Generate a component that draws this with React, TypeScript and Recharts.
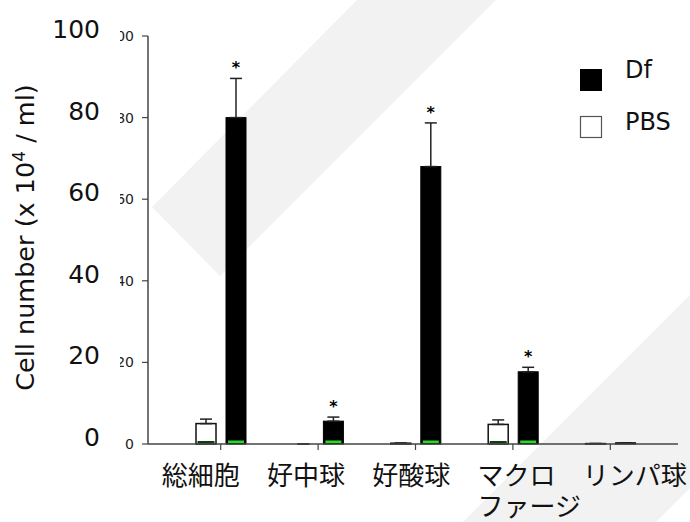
import React from 'react';
import { BarChart, Bar, XAxis, YAxis, ErrorBar } from 'recharts';

const categories = ['総細胞', '好中球', '好酸球', 'マクロ\nファージ', 'リンパ球'];
const dfValues = [80, 5.6, 68, 17.7, 0.3];
const dfErrors = [9.6, 1.0, 10.7, 1.1, 0];
const pbsValues = [5.0, 0, 0.2, 4.8, 0.1];
const pbsErrors = [1.1, 0, 0, 1.1, 0];
const significant = [true, true, true, true, false];
const yTicks = [0, 20, 40, 60, 80, 100];
const seriesNames = ['Df', 'PBS'];
const yAxisTitle = 'Cell number (x 10';
const yAxisSup = '4';
const yAxisTail = ' / ml)';

const data = categories.map((name, i) => ({
  name,
  pbs: pbsValues[i],
  pbsErr: [0, pbsErrors[i]],
  df: dfValues[i],
  dfErr: [0, dfErrors[i]],
  dfErrVal: dfErrors[i],
  sig: significant[i],
}));

const LATIN = '"DejaVu Sans", Verdana, sans-serif';
const CJK = '"Noto Sans CJK JP", "DejaVu Sans", sans-serif';

const DfShape = (props: any) => {
  const { x, y, width, height, payload } = props;
  const h = Math.max(height || 0, 0);
  const unit = payload.df > 0 ? h / payload.df : 0;
  const errTop = y - payload.dfErrVal * unit;
  return (
    <g>
      <rect x={x} y={y} width={width} height={h} fill="#000" stroke="#000" strokeWidth={1} />
      {h > 6 && <rect x={x + 2} y={y + h - 3.5} width={width - 4} height={2.5} fill="#22dd22" />}
      {payload.sig && (
        <text x={x + width / 2} y={errTop - 5} textAnchor="middle" fontSize={16} fontWeight="bold" fill="#000" fontFamily={LATIN}>*</text>
      )}
    </g>
  );
};

const PbsShape = (props: any) => {
  const { x, y, width, height } = props;
  const h = Math.max(height || 0, 0);
  return (
    <g>
      <rect x={x} y={y} width={width} height={h} fill="#fff" stroke="#111" strokeWidth={1.5} />
      {h > 6 && <rect x={x + 1.5} y={y + h - 3} width={width - 3} height={2.2} fill="#123d12" />}
    </g>
  );
};

const YTick = (props: any) => {
  const { y, payload } = props;
  const v = payload.value;
  return (
    <g>
      <text x={134} y={y + 5} textAnchor="end" fontSize={14} fill="#222" fontFamily={LATIN}>{v}</text>
      <rect x={100.5} y={y - 11} width={19.5} height={22} fill="#fff" />
      <text x={100} y={y + 2} textAnchor="end" fontSize={25} fill="#111" fontFamily={LATIN}>{v}</text>
    </g>
  );
};

const XTick = (props: any) => {
  const { x, payload } = props;
  const lines = String(payload.value).split('\n');
  const left = 162 + (x - 221) * 1.081;
  return (
    <text x={left} y={485} textAnchor="start" fontSize={26} fill="#111" fontFamily={CJK}>
      {lines.map((ln, i) => (
        <tspan key={i} x={left} dy={i === 0 ? 0 : 31}>{ln}</tspan>
      ))}
    </text>
  );
};

const YLabel = () => (
  <text transform="translate(34,237.5) rotate(-90)" textAnchor="middle" fontSize={25.5} fill="#111" fontFamily={LATIN}>
    {yAxisTitle}
    <tspan dy={-9} fontSize={17}>{yAxisSup}</tspan>
    <tspan dy={9}>{yAxisTail}</tspan>
  </text>
);

export default function App() {
  return (
    <div style={{ position: 'absolute', left: 0, top: 0, width: 690, height: 522, background: '#fff', overflow: 'hidden' }}>
      <svg width={690} height={522} style={{ position: 'absolute', left: 0, top: 0 }}>
        <polygon points="357,0 496,0 220,276 152,207" fill="#f2f2f2" />
        <polygon points="463,522 690,295 690,488 656,522" fill="#f2f2f2" />
      </svg>
      <div style={{ position: 'absolute', left: 0, top: 0 }}>
        <BarChart
          width={690}
          height={522}
          data={data}
          margin={{ top: 36, right: 12, left: 0, bottom: 0 }}
          barSize={20}
          barGap={10}
        >
          <XAxis
            dataKey="name"
            interval={0}
            height={78}
            padding={{ left: 24, right: 19 }}
            tick={<XTick />}
            tickSize={6}
            axisLine={{ stroke: '#444', strokeWidth: 1.5 }}
            tickLine={{ stroke: '#444', strokeWidth: 1.2 }}
          />
          <YAxis
            width={148}
            domain={[0, 100]}
            ticks={yTicks}
            tick={<YTick />}
            tickSize={6}
            axisLine={{ stroke: '#444', strokeWidth: 1.5 }}
            tickLine={{ stroke: '#444', strokeWidth: 1.2 }}
            label={YLabel}
          />
          <Bar dataKey="pbs" isAnimationActive={false} shape={<PbsShape />}>
            <ErrorBar dataKey="pbsErr" width={6} stroke="#222" strokeWidth={1.5} direction="y" />
          </Bar>
          <Bar dataKey="df" isAnimationActive={false} shape={<DfShape />}>
            <ErrorBar dataKey="dfErr" width={6} stroke="#222" strokeWidth={1.5} direction="y" />
          </Bar>
        </BarChart>
      </div>
      <svg width={690} height={522} style={{ position: 'absolute', left: 0, top: 0, pointerEvents: 'none' }}>
        <rect x={580} y={69} width={22} height={22} fill="#000" />
        <text x={625} y={78} fontSize={24} fill="#111" fontFamily={LATIN}>{seriesNames[0]}</text>
        <rect x={580.5} y={116.5} width={21} height={21} fill="#fff" stroke="#555" strokeWidth={1.2} />
        <text x={625} y={130} fontSize={24} fill="#111" fontFamily={LATIN}>{seriesNames[1]}</text>
      </svg>
    </div>
  );
}
